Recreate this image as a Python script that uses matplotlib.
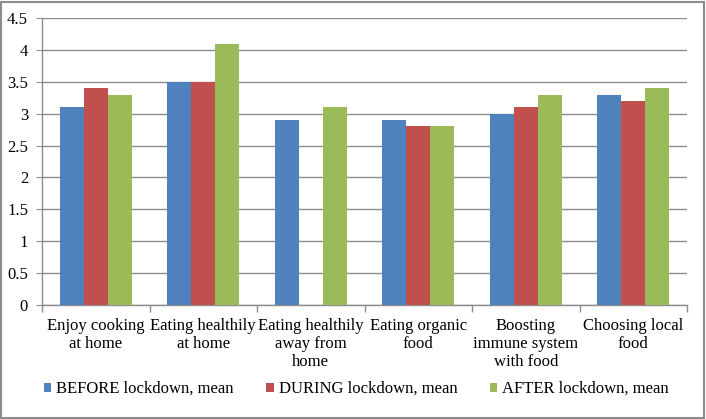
import numpy as np
import matplotlib
matplotlib.use("Agg")
import matplotlib.pyplot as plt
from matplotlib.patches import Rectangle

categories = ["Enjoy cooking\nat home", "Eating healthily\nat home", "Eating healthily\naway from\nhome",
              "Eating organic\nfood", "Boosting\nimmune system\nwith food", "Choosing local\nfood"]
series_names = ["BEFORE lockdown, mean", "DURING lockdown, mean", "AFTER lockdown, mean"]
before = [3.1, 3.5, 2.9, 2.9, 3.0, 3.3]
during = [3.4, 3.5, np.nan, 2.8, 3.1, 3.2]
after = [3.3, 4.1, 3.1, 2.8, 3.3, 3.4]
yticks = [0, 0.5, 1, 1.5, 2, 2.5, 3, 3.5, 4, 4.5]
ytick_labels = ["0", "0.5", "1", "1.5", "2", "2.5", "3", "3.5", "4", "4.5"]

colors = ["#4F81BD", "#C0504D", "#9BBB59"]

plt.rcParams['font.family'] = ['Liberation Serif', 'DejaVu Serif']

W, H = 706, 419
fig = plt.figure(figsize=(W / 100, H / 100), dpi=100)
ax = fig.add_axes([42 / W, 1 - 305 / H, (687 - 42) / W, (305 - 18) / H])

n = len(categories)
x = np.arange(n)
bw = 1 / 4.5
for i, (vals, c, name) in enumerate(zip([before, during, after], colors, series_names)):
    ax.bar(x + (i - 1) * bw, vals, width=bw, color=c, label=name, zorder=3,
           edgecolor='none')

ax.set_xlim(-0.5, n - 0.5)
ax.set_ylim(0, 4.5)
ax.set_yticks(yticks)
ax.set_yticklabels(ytick_labels)
ax.yaxis.grid(True, color="#8C8C8C", linewidth=1.0, zorder=0)
ax.set_axisbelow(True)

fs = 12
ax.set_xticks(x)
ax.set_xticklabels(categories, linespacing=1.2)
ax.tick_params(axis='x', length=0, labelsize=fs, pad=9)
ax.set_xticks(np.arange(-0.5, n, 1), minor=True)
ax.tick_params(axis='x', which='minor', length=5, color="#8C8C8C", width=1)
ax.tick_params(axis='y', length=4, color="#8C8C8C", labelsize=fs, pad=6)

for s in ['top', 'right']:
    ax.spines[s].set_visible(False)
for s in ['left', 'bottom']:
    ax.spines[s].set_color("#8C8C8C")
    ax.spines[s].set_linewidth(1)

leg = fig.legend(loc='center', bbox_to_anchor=(356.5 / W, 1 - 389 / H), ncol=3, frameon=False,
                 fontsize=fs, handlelength=0.45, handleheight=0.45, handletextpad=0.3,
                 columnspacing=1.95, borderpad=0)

fig.patches.append(Rectangle((1 / W, 1 / H), (W - 3) / W, (H - 3) / H, transform=fig.transFigure,
                             fill=False, edgecolor="#8C8C8C", linewidth=1.5))

fig.savefig("out.png", dpi=100)
